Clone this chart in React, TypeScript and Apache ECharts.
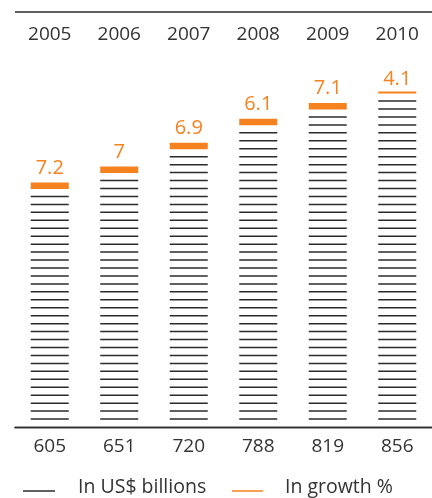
import React, { useEffect, useRef } from "react";
import * as echarts from "echarts";

const years = ["2005", "2006", "2007", "2008", "2009", "2010"];
const billions = [605, 651, 720, 788, 819, 856];
const growth = ["7.2", "7", "6.9", "6.1", "7.1", "4.1"];
const estimated = [false, false, false, false, false, true];
const legendLabels = ["In US$ billions", "In growth %"];

const FONT = "'Open Sans', 'Noto Sans', sans-serif";
const DARK = "#2b2b2b";
const TEXT = "#333333";
const ORANGE = "#F5821F";
const STEP = 7.95;
const BAR_W = 38;

export default function App() {
  const ref = useRef<HTMLDivElement>(null);
  useEffect(() => {
    const chart = echarts.init(ref.current!, null, { renderer: "svg" });
    const stripeInfo = (api: any) => {
      const x = api.value(0);
      const v = api.value(1);
      const top = api.coord([x, v]);
      const base = api.coord([x, 0]);
      const n = Math.round((base[1] - top[1]) / STEP);
      return { cx: top[0], base: base[1], n, topStripe: base[1] - STEP * n };
    };
    chart.setOption({
      animation: false,
      grid: { left: 15, right: 0, top: 50, bottom: 71 },
      xAxis: [
        {
          type: "category",
          data: years,
          position: "top",
          axisLine: { lineStyle: { color: DARK, width: 1.3 } },
          axisTick: { show: false },
          axisLabel: { color: TEXT, fontSize: 19, fontFamily: FONT, margin: 8 },
        },
        {
          type: "category",
          data: years,
          position: "bottom",
          axisLine: { lineStyle: { color: DARK, width: 1.3 } },
          axisTick: { show: false },
          axisLabel: {
            color: TEXT,
            fontSize: 19,
            fontFamily: FONT,
            margin: 8,
            formatter: (_v: string, i: number) => String(billions[i]),
          },
        },
      ],
      yAxis: { type: "value", min: 0, max: 1000, show: false },
      graphic: [
        { type: "line", shape: { x1: 15, y1: 12, x2: 432, y2: 12 }, style: { stroke: DARK, lineWidth: 1.3 } },
        { type: "line", shape: { x1: 23, y1: 491, x2: 55, y2: 491 }, style: { stroke: DARK, lineWidth: 1.5 } },
        {
          type: "text",
          x: 78,
          y: 485,
          style: { text: legendLabels[0], fill: TEXT, fontSize: 19.5, fontFamily: FONT, verticalAlign: "middle" },
        },
        { type: "line", shape: { x1: 232, y1: 491, x2: 263, y2: 491 }, style: { stroke: ORANGE, lineWidth: 1.5 } },
        {
          type: "text",
          x: 285,
          y: 485,
          style: { text: legendLabels[1], fill: TEXT, fontSize: 19.5, fontFamily: FONT, verticalAlign: "middle" },
        },
      ],
      series: [
        {
          type: "custom",
          name: legendLabels[0],
          data: billions.map((v, i) => [i, v]),
          renderItem: (_params: any, api: any) => {
            const s = stripeInfo(api);
            const children: any[] = [];
            for (let k = 1; k <= s.n; k++) {
              const y = s.base - STEP * k;
              children.push({
                type: "rect",
                shape: { x: s.cx - BAR_W / 2, y: y - 0.75, width: BAR_W, height: 1.5 },
                style: { fill: DARK },
              });
            }
            return { type: "group", children };
          },
        },
        {
          type: "custom",
          name: legendLabels[1],
          data: billions.map((v, i) => [i, v]),
          renderItem: (params: any, api: any) => {
            const s = stripeInfo(api);
            const i = params.dataIndex;
            const children: any[] = [];
            let capTop: number;
            if (estimated[i]) {
              const ly = s.topStripe - 8.6;
              children.push({
                type: "rect",
                shape: { x: s.cx - BAR_W / 2, y: ly - 1, width: BAR_W, height: 2 },
                style: { fill: ORANGE },
              });
              capTop = ly + 1.3;
            } else {
              capTop = s.topStripe - 14;
              children.push({
                type: "rect",
                shape: { x: s.cx - BAR_W / 2, y: capTop, width: BAR_W, height: 6.5 },
                style: { fill: ORANGE },
              });
            }
            children.push({
              type: "text",
              x: s.cx,
              y: capTop - 16,
              style: {
                text: growth[i],
                fill: ORANGE,
                fontSize: 20,
                fontFamily: FONT,
                align: "center",
                verticalAlign: "middle",
              },
            });
            return { type: "group", children };
          },
        },
      ],
    });
    return () => chart.dispose();
  }, []);
  return <div ref={ref} style={{ position: "fixed", left: 0, top: 0, width: 432, height: 498 }} />;
}
